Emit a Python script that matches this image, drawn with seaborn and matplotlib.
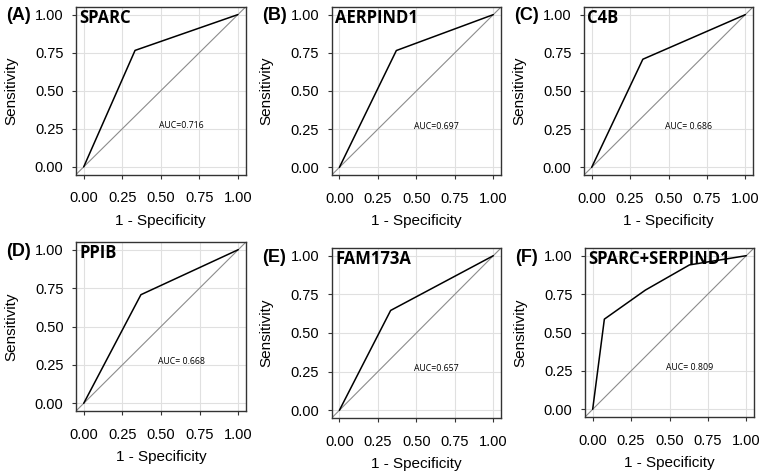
import numpy as np
import pandas as pd
import seaborn as sns
import matplotlib.pyplot as plt

# --- ROC points (1 - specificity, sensitivity)
labels = ['(A)', '(B)', '(C)', '(D)', '(E)', '(F)']
genes = ['SPARC', 'AERPIND1', 'C4B', 'PPIB', 'FAM173A', 'SPARC+SERPIND1']
auc_text = ['AUC=0.716', 'AUC=0.697', 'AUC= 0.686', 'AUC= 0.668', 'AUC=0.657', 'AUC= 0.809']

fpr_sparc = [0.0, 0.333, 1.0]
tpr_sparc = [0.0, 0.765, 1.0]
fpr_aerpind1 = [0.0, 0.37, 1.0]
tpr_aerpind1 = [0.0, 0.765, 1.0]
fpr_c4b = [0.0, 0.333, 1.0]
tpr_c4b = [0.0, 0.708, 1.0]
fpr_ppib = [0.0, 0.37, 1.0]
tpr_ppib = [0.0, 0.707, 1.0]
fpr_fam = [0.0, 0.333, 1.0]
tpr_fam = [0.0, 0.646, 1.0]
fpr_combo = [0.0, 0.076, 0.343, 0.63, 1.0]
tpr_combo = [0.0, 0.587, 0.776, 0.94, 1.0]

fprs = [fpr_sparc, fpr_aerpind1, fpr_c4b, fpr_ppib, fpr_fam, fpr_combo]
tprs = [tpr_sparc, tpr_aerpind1, tpr_c4b, tpr_ppib, tpr_fam, tpr_combo]
ticks = [0.0, 0.25, 0.5, 0.75, 1.0]
tick_labels = ['0.00', '0.25', '0.50', '0.75', '1.00']

sns.set_theme(style="whitegrid")
plt.rcParams['font.family'] = ['Liberation Sans', 'DejaVu Sans']
plt.rcParams['axes.labelcolor'] = 'black'
plt.rcParams['text.color'] = 'black'

W, H = 761, 476
f = plt.figure(figsize=(W/100, H/100), dpi=100)

# panel boxes in pixels: left, right, top, bottom
boxes = [(76, 245.6, 7, 174.5), (331.7, 501, 7, 175), (584, 753, 7, 175),
         (76, 246, 242, 411), (331.7, 501, 248, 418), (585, 754, 248, 417)]

for i in range(6):
    l, r, t, b = boxes[i]
    ax = f.add_axes([l/W, 1-b/H, (r-l)/W, (b-t)/H])
    df = pd.DataFrame({'fpr': fprs[i], 'tpr': tprs[i]})
    ax.axline((0, 0), slope=1, color='#8c8c8c', lw=0.8, zorder=2)
    sns.lineplot(data=df, x='fpr', y='tpr', sort=False, color='black', lw=1.1, ax=ax, zorder=3)
    ax.set_xlim(-0.05, 1.05)
    ax.set_ylim(-0.05, 1.05)
    ax.set_xticks(ticks)
    ax.set_yticks(ticks)
    ax.set_xticklabels(tick_labels)
    ax.set_yticklabels(tick_labels)
    ax.tick_params(axis='both', labelsize=10.5, length=3, width=0.8, color='#333333',
                   labelcolor='black', bottom=True, left=True)
    ax.tick_params(axis='x', pad=9)
    ax.tick_params(axis='y', pad=6)
    ax.grid(which="major", color="#e0e0e0", linestyle='-', lw=0.8)
    for s in ax.spines.values():
        s.set_color('#333333')
        s.set_linewidth(1.0)
    ax.set_xlabel('1 - Specificity', fontsize=11, labelpad=6)
    ax.set_ylabel('Sensitivity', fontsize=11, labelpad=12)
    ax.text(0.02, 0.99, genes[i], transform=ax.transAxes, ha='left', va='top',
            fontsize=12, fontweight='bold', family=['Open Sans', 'DejaVu Sans'])
    ax.text(0.63, 0.27, auc_text[i], ha='center', va='center', fontsize=6.3,
            family=['Open Sans', 'DejaVu Sans'])
    f.text((l - 70)/W, 1 - (t + 9)/H, labels[i], ha='left', va='center',
           fontsize=13, fontweight='bold')

plt.savefig('out.png', dpi=100)
